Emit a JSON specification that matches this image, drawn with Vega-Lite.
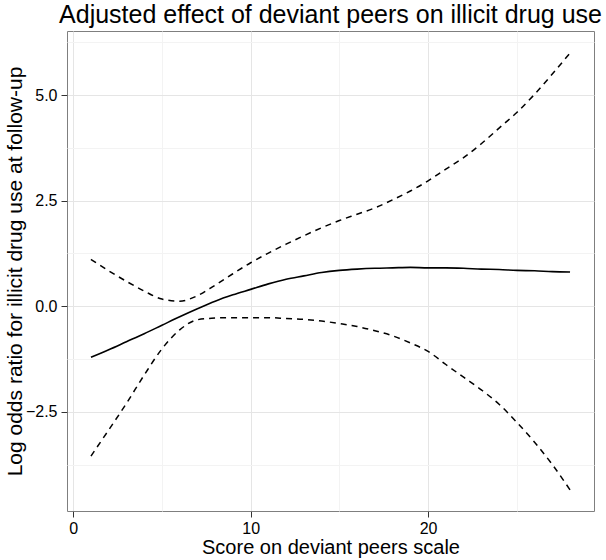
{
  "$schema": "https://vega.github.io/schema/vega-lite/v6.json",
  "autosize": {"type": "none"},
  "padding": {"left": 67, "top": 31, "right": 12, "bottom": 49},
  "width": 527,
  "height": 480,
  "title": {
    "text": "Adjusted effect of deviant peers on illicit drug use",
    "fontSize": 25,
    "fontWeight": "normal",
    "color": "black",
    "anchor": "middle",
    "frame": "group",
    "offset": 3
  },
  "data": {
    "values": [
      {"score": 1, "est": -1.21, "lower": -3.55, "upper": 1.11},
      {"score": 2, "est": -1.03, "lower": -2.93, "upper": 0.84},
      {"score": 3, "est": -0.84, "lower": -2.30, "upper": 0.59},
      {"score": 4, "est": -0.65, "lower": -1.63, "upper": 0.36},
      {"score": 5, "est": -0.45, "lower": -1.01, "upper": 0.17},
      {"score": 6, "est": -0.25, "lower": -0.56, "upper": 0.12},
      {"score": 7, "est": -0.06, "lower": -0.32, "upper": 0.25},
      {"score": 8, "est": 0.12, "lower": -0.28, "upper": 0.50},
      {"score": 9, "est": 0.27, "lower": -0.27, "upper": 0.77},
      {"score": 10, "est": 0.40, "lower": -0.27, "upper": 1.03},
      {"score": 11, "est": 0.53, "lower": -0.27, "upper": 1.26},
      {"score": 12, "est": 0.64, "lower": -0.29, "upper": 1.47},
      {"score": 13, "est": 0.72, "lower": -0.31, "upper": 1.67},
      {"score": 14, "est": 0.80, "lower": -0.35, "upper": 1.86},
      {"score": 15, "est": 0.85, "lower": -0.41, "upper": 2.03},
      {"score": 16, "est": 0.88, "lower": -0.48, "upper": 2.18},
      {"score": 17, "est": 0.90, "lower": -0.58, "upper": 2.33},
      {"score": 18, "est": 0.91, "lower": -0.70, "upper": 2.52},
      {"score": 19, "est": 0.92, "lower": -0.87, "upper": 2.73},
      {"score": 20, "est": 0.91, "lower": -1.07, "upper": 2.97},
      {"score": 21, "est": 0.91, "lower": -1.38, "upper": 3.25},
      {"score": 22, "est": 0.90, "lower": -1.68, "upper": 3.52},
      {"score": 23, "est": 0.88, "lower": -1.98, "upper": 3.85},
      {"score": 24, "est": 0.87, "lower": -2.32, "upper": 4.22},
      {"score": 25, "est": 0.85, "lower": -2.75, "upper": 4.59},
      {"score": 26, "est": 0.84, "lower": -3.22, "upper": 5.02},
      {"score": 27, "est": 0.82, "lower": -3.75, "upper": 5.50},
      {"score": 28, "est": 0.81, "lower": -4.35, "upper": 6.00}
    ]
  },
  "encoding": {
    "x": {
      "field": "score",
      "type": "quantitative",
      "title": "Score on deviant peers scale",
      "scale": {"domain": [-0.35, 29.35], "nice": false, "zero": false},
      "axis": {
        "values": [0, 5, 10, 15, 20, 25],
        "labelExpr": "datum.value % 10 == 0 ? format(datum.value, 'd') : ''",
        "gridColor": {"condition": {"test": "datum.value % 10 == 0", "value": "#e5e5e5"}, "value": "#f3f3f3"},
        "tickOpacity": {"condition": {"test": "datum.value % 10 == 0", "value": 1}, "value": 0},
        "labelPadding": 3,
        "titleFontSize": 20,
        "titlePadding": 1
      }
    }
  },
  "layer": [
    {
      "mark": {"type": "line", "color": "black", "strokeWidth": 1.5, "strokeDash": [6, 5], "interpolate": "monotone"},
      "encoding": {
        "y": {
          "field": "upper",
          "type": "quantitative",
          "title": "Log odds ratio for illicit drug use at follow-up",
          "scale": {"domain": [-4.85, 6.52], "nice": false, "zero": false},
          "axis": {
            "values": [-3.75, -2.5, -1.25, 0, 1.25, 2.5, 3.75, 5, 6.25],
            "labelExpr": "datum.value % 2.5 == 0 ? replace(format(datum.value, '.1f'), '-', '\u2212') : ''",
            "gridColor": {"condition": {"test": "datum.value % 2.5 == 0", "value": "#e5e5e5"}, "value": "#f3f3f3"},
            "tickOpacity": {"condition": {"test": "datum.value % 2.5 == 0", "value": 1}, "value": 0},
            "labelPadding": 4,
            "titlePadding": 0
          }
        }
      }
    },
    {
      "mark": {"type": "line", "color": "black", "strokeWidth": 1.5, "strokeDash": [6, 5], "interpolate": "monotone"},
      "encoding": {"y": {"field": "lower", "type": "quantitative"}}
    },
    {
      "mark": {"type": "line", "color": "black", "strokeWidth": 1.6, "interpolate": "monotone"},
      "encoding": {"y": {"field": "est", "type": "quantitative"}}
    }
  ],
  "config": {
    "font": "Liberation Sans",
    "background": "white",
    "view": {"stroke": "#7f7f7f", "strokeWidth": 1},
    "axis": {
      "domain": false,
      "grid": true,
      "tickColor": "#333333",
      "tickSize": 6,
      "labelFontSize": 16,
      "labelColor": "black",
      "titleFontSize": 21,
      "titleFontWeight": "normal",
      "titleColor": "black"
    }
  }
}
